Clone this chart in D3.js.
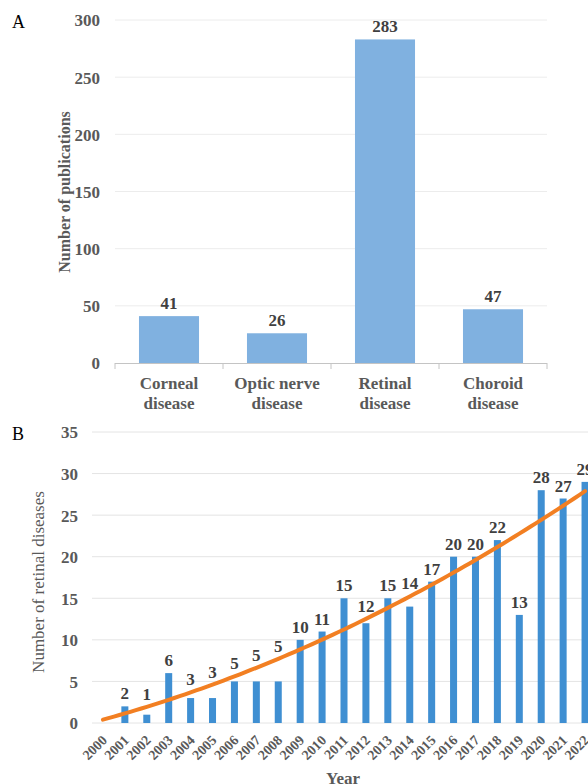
<!DOCTYPE html>
<html>
<head>
<meta charset="utf-8">
<script src="https://cdn.jsdelivr.net/npm/d3@7"></script>
<style>
  body { margin: 0; background: #fff; }
  svg { display: block; font-family: "Liberation Serif", "Times New Roman", serif; }
</style>
</head>
<body>
<svg id="chart" width="588" height="784"></svg>
<script>
// panel A data
const categories = [["Corneal", "disease"], ["Optic nerve", "disease"], ["Retinal", "disease"], ["Choroid", "disease"]];
const publications = [41, 26, 283, 47];
const yTicksA = [0, 50, 100, 150, 200, 250, 300];

// panel B data
const years = ["2000", "2001", "2002", "2003", "2004", "2005", "2006", "2007", "2008", "2009", "2010", "2011",
               "2012", "2013", "2014", "2015", "2016", "2017", "2018", "2019", "2020", "2021", "2022"];
const retinal = [0, 2, 1, 6, 3, 3, 5, 5, 5, 10, 11, 15, 12, 15, 14, 17, 20, 20, 22, 13, 28, 27, 29];
const yTicksB = [0, 5, 10, 15, 20, 25, 30, 35];

const svg = d3.select("#chart");
const gray = "#595959";
const dark = "#404040";

// ---------- A ----------
const xA = d3.scaleBand()
             .domain(d3.range(categories.length))
             .range([115, 547])
             .paddingInner(0.444)
             .paddingOuter(0.222);

const yA = d3.scaleLinear().domain([0, 300]).range([363, 20]);

svg.append("text").attr("x", 12).attr("y", 28)
   .attr("font-size", 18).attr("fill", "#000").text("A");

svg.append("g").selectAll("line")
   .data(yTicksA.filter(d => d > 0))
   .enter().append("line")
   .attr("x1", 115).attr("x2", 547)
   .attr("y1", d => yA(d)).attr("y2", d => yA(d))
   .attr("stroke", "#ececec").attr("stroke-width", 1);

const axisA = svg.append("g")
   .call(d3.axisLeft(yA).tickValues(yTicksA).tickSize(0).tickPadding(0));
axisA.select(".domain").remove();
axisA.selectAll("text")
     .attr("x", 100)
     .attr("dy", "0.35em")
     .attr("font-family", "Liberation Serif")
     .attr("font-weight", "bold")
     .attr("font-size", 17)
     .attr("fill", gray);

svg.append("g").selectAll("rect")
   .data(publications)
   .enter().append("rect")
   .attr("x", (d, i) => xA(i))
   .attr("y", d => yA(d))
   .attr("width", xA.bandwidth())
   .attr("height", d => yA(0) - yA(d))
   .attr("fill", "#80b1e0");

svg.append("g").selectAll("text")
   .data(publications)
   .enter().append("text")
   .attr("x", (d, i) => xA(i) + xA.bandwidth() / 2)
   .attr("y", d => yA(d) - 7)
   .attr("text-anchor", "middle")
   .attr("font-weight", "bold")
   .attr("font-size", 17)
   .attr("fill", dark)
   .text(d => d);

// baseline + category ticks
svg.append("line")
   .attr("x1", 115).attr("x2", 547)
   .attr("y1", yA(0) + 0.5).attr("y2", yA(0) + 0.5)
   .attr("stroke", "#c4c4c4");
svg.append("g").selectAll("line")
   .data(d3.range(categories.length + 1))
   .enter().append("line")
   .attr("x1", i => 115 + i * xA.step()).attr("x2", i => 115 + i * xA.step())
   .attr("y1", yA(0)).attr("y2", yA(0) + 6)
   .attr("stroke", "#c4c4c4");

const catLabels = svg.append("g").selectAll("text")
   .data(categories)
   .enter().append("text")
   .attr("text-anchor", "middle")
   .attr("font-weight", "bold")
   .attr("font-size", 17)
   .attr("fill", gray);
catLabels.each(function (d, i) {
  const cx = xA(i) + xA.bandwidth() / 2;
  d3.select(this).selectAll("tspan")
    .data(d).enter().append("tspan")
    .attr("x", cx)
    .attr("y", (t, j) => 389 + j * 20)
    .text(t => t);
});

svg.append("text")
   .attr("transform", "translate(70,192) rotate(-90)")
   .attr("text-anchor", "middle")
   .attr("font-weight", "bold")
   .attr("font-size", 16)
   .attr("fill", gray)
   .text("Number of publications");

// ---------- B ----------
const xB = d3.scaleBand()
             .domain(years)
             .range([92, 596])
             .paddingInner(0.68)
             .paddingOuter(0.34);

const yB = d3.scaleLinear().domain([0, 35]).range([723, 432]);

svg.append("text").attr("x", 12).attr("y", 440)
   .attr("font-size", 18).attr("fill", "#000").text("B");

svg.append("g").selectAll("line")
   .data(yTicksB)
   .enter().append("line")
   .attr("x1", 92).attr("x2", 588)
   .attr("y1", d => yB(d)).attr("y2", d => yB(d))
   .attr("stroke", "#e4e4e4").attr("stroke-width", 1);

const axisB = svg.append("g")
   .call(d3.axisLeft(yB).tickValues(yTicksB).tickSize(0).tickPadding(0));
axisB.select(".domain").remove();
axisB.selectAll("text")
     .attr("x", 78)
     .attr("dy", "0.35em")
     .attr("font-family", "Liberation Serif")
     .attr("font-weight", "bold")
     .attr("font-size", 17)
     .attr("fill", gray);

svg.append("g").selectAll("rect")
   .data(retinal)
   .enter().append("rect")
   .attr("x", (d, i) => xB(years[i]))
   .attr("y", d => yB(d))
   .attr("width", xB.bandwidth())
   .attr("height", d => yB(0) - yB(d))
   .attr("fill", "#3f8fd2");

// polynomial (order 2) least-squares trendline of the yearly counts
function quadFit(ys) {
  let s = [0, 0, 0, 0, 0], t = [0, 0, 0];
  ys.forEach((y, x) => {
    for (let k = 0; k < 5; k++) s[k] += Math.pow(x, k);
    for (let k = 0; k < 3; k++) t[k] += y * Math.pow(x, k);
  });
  const M = [[s[0], s[1], s[2], t[0]], [s[1], s[2], s[3], t[1]], [s[2], s[3], s[4], t[2]]];
  for (let i = 0; i < 3; i++) {
    for (let j = i + 1; j < 3; j++) {
      const f = M[j][i] / M[i][i];
      for (let k = i; k < 4; k++) M[j][k] -= f * M[i][k];
    }
  }
  const c = [0, 0, 0];
  for (let i = 2; i >= 0; i--) {
    let v = M[i][3];
    for (let k = i + 1; k < 3; k++) v -= M[i][k] * c[k];
    c[i] = v / M[i][i];
  }
  return x => c[0] + c[1] * x + c[2] * x * x;
}
const trend = quadFit(retinal);
const cxB = i => xB(years[i]) + xB.bandwidth() / 2;

const trendPts = d3.range(0, years.length - 1 + 0.001, 0.25);
svg.append("path")
   .datum(trendPts)
   .attr("fill", "none")
   .attr("stroke", "#f27f22")
   .attr("stroke-width", 4)
   .attr("stroke-linecap", "round")
   .attr("d", d3.line()
                .x(t => cxB(0) + t * xB.step())
                .y(t => yB(trend(t))));

// value labels: lifted above the trendline when it runs just over the bar
svg.append("g").selectAll("text")
   .data(retinal.map((v, i) => ({v, i})).filter(d => d.v > 0))
   .enter().append("text")
   .attr("x", d => cxB(d.i))
   .attr("y", d => {
     const tv = trend(d.i);
     const top = (tv > d.v && tv - d.v < 4) ? tv : d.v;
     return yB(top) - 7;
   })
   .attr("text-anchor", "middle")
   .attr("font-weight", "bold")
   .attr("font-size", 17)
   .attr("fill", dark)
   .text(d => d.v);

svg.append("g").selectAll("text")
   .data(years)
   .enter().append("text")
   .attr("transform", (d, i) => "translate(" + (cxB(i) + 5) + ",741) rotate(-45)")
   .attr("text-anchor", "end")
   .attr("font-weight", "bold")
   .attr("font-size", 14)
   .attr("fill", gray)
   .text(d => d);

svg.append("text")
   .attr("x", 343).attr("y", 784)
   .attr("text-anchor", "middle")
   .attr("font-weight", "bold")
   .attr("font-size", 17)
   .attr("fill", gray)
   .text("Year");

svg.append("text")
   .attr("transform", "translate(44,582) rotate(-90)")
   .attr("text-anchor", "middle")
   .attr("font-size", 17)
   .attr("fill", gray)
   .text("Number of retinal diseases");
</script>
</body>
</html>
